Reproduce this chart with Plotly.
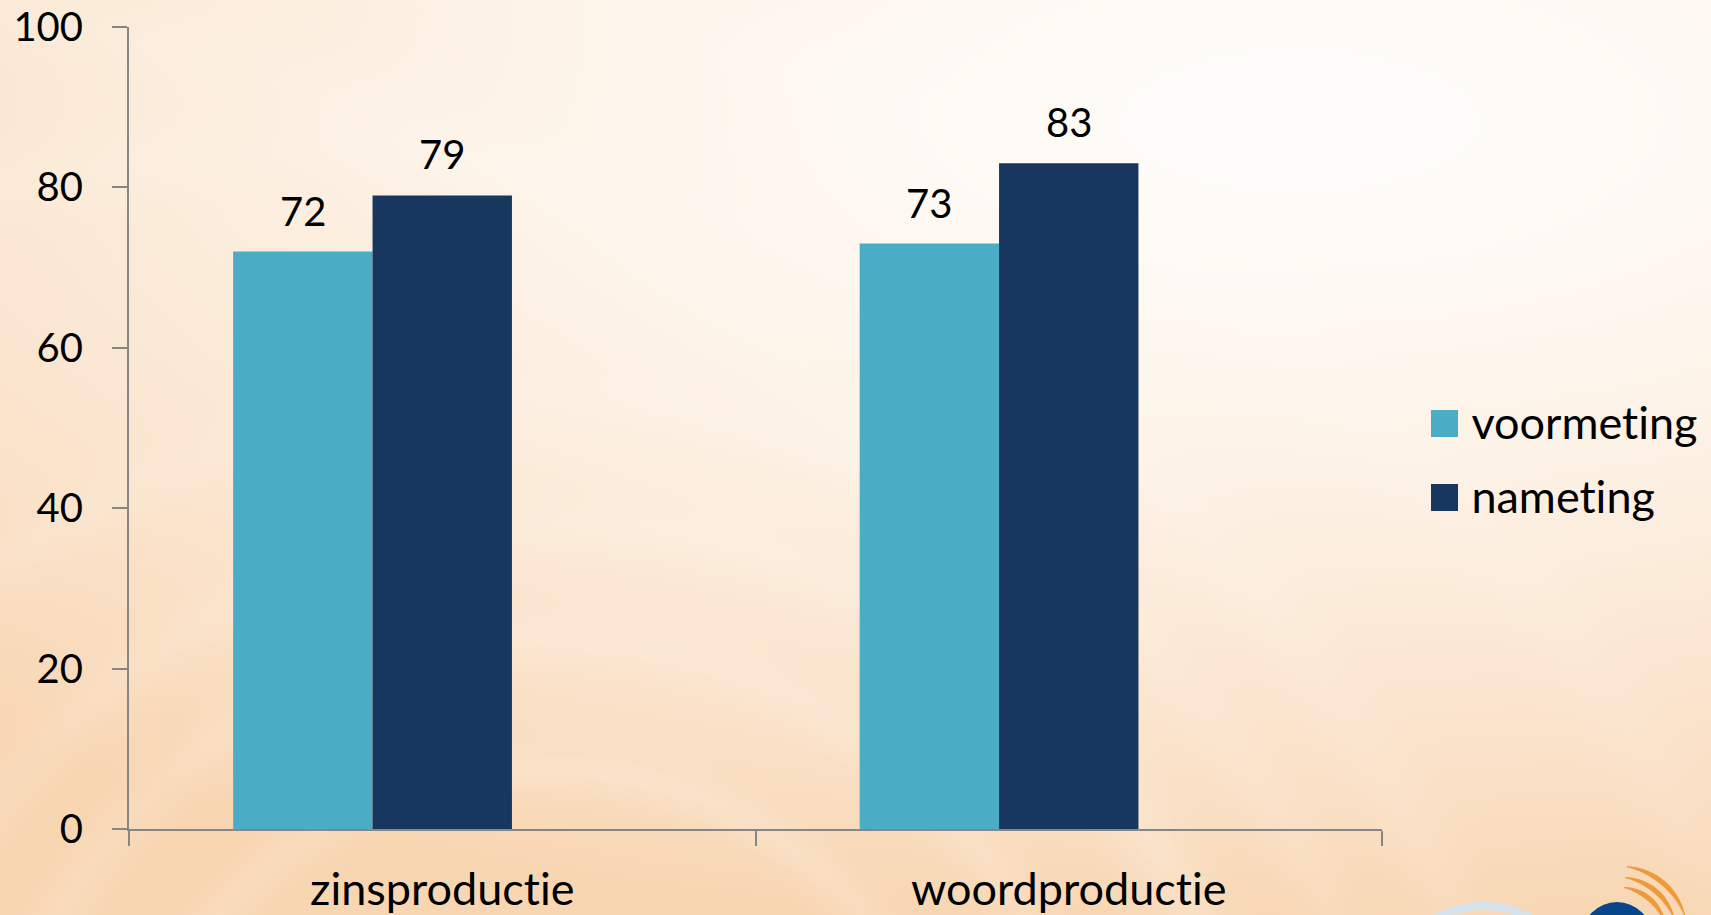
import base64
import struct
import zlib

import numpy as np
import plotly.graph_objects as go

# ---------------- data ----------------
categories = ["zinsproductie", "woordproductie"]
series_names = ["voormeting", "nameting"]
voormeting = [72, 73]
nameting = [79, 83]
series_values = [voormeting, nameting]
series_colors = ["#4BACC6", "#17375E"]
y_ticks = [0, 20, 40, 60, 80, 100]

# ---------------- geometry (pixels of the 1711x915 page) ----------------
W, H = 1711, 915
PLOT_L, PLOT_R, PLOT_T, PLOT_B = 129, 1382, 27, 829
N_SLOTS = 3          # the chart reserves a third (empty) slot per category
BARGAP = 0.3325
FONT = "Lato"
FS_NUM = 40
FS_TXT = 45


def px(x):
    return x / W


def py(y):
    return 1 - y / H


# ---------------- background image ----------------
def png_data_uri(arr):
    h, w, _ = arr.shape
    raw = b"".join(b"\x00" + arr[i].tobytes() for i in range(h))

    def chunk(t, d):
        c = struct.pack(">I", len(d)) + t + d
        return c + struct.pack(">I", zlib.crc32(t + d) & 0xFFFFFFFF)

    png = (b"\x89PNG\r\n\x1a\n"
           + chunk(b"IHDR", struct.pack(">IIBBBBB", w, h, 8, 2, 0, 0, 0))
           + chunk(b"IDAT", zlib.compress(raw, 9))
           + chunk(b"IEND", b""))
    return "data:image/png;base64," + base64.b64encode(png).decode()


bw, bh = 570, 305
gx, gy = np.meshgrid(np.linspace(0, W, bw), np.linspace(0, H, bh))
d = np.sqrt(((gx - 1300) / 2000) ** 2 + ((gy - 120) / 820) ** 2)
wgt = np.clip(d, 0, 1) ** 1.5
# soft light swooshes (large faint arcs)
for cx, cy, r, a, b in [(540, 1200, 430, 0.16, 22), (540, 1200, 560, 0.14, 26),
                        (560, 1250, 720, 0.12, 28), (520, 1300, 900, 0.10, 30),
                        (300, 1400, 1250, 0.10, 35), (-200, 1500, 1500, 0.10, 40),
                        (200, 1650, 1700, 0.08, 40)]:
    dist = np.sqrt((gx - cx) ** 2 + (gy - cy) ** 2)
    wgt = wgt * (1 - a * np.exp(-((dist - r) / b) ** 2))
white = np.array([255, 253, 250], dtype=float)
peach = np.array([248, 214, 178], dtype=float)
img = white[None, None, :] * (1 - wgt[..., None]) + peach[None, None, :] * wgt[..., None]
bg_uri = png_data_uri(np.clip(img, 0, 255).astype(np.uint8))

# ---------------- figure ----------------
fig = go.Figure()
for name, vals, col in zip(series_names, series_values, series_colors):
    fig.add_trace(go.Bar(x=categories, y=vals, name=name, marker_color=col,
                         marker_line_width=0, showlegend=False))
# empty third series slot (as in the original chart)
fig.add_trace(go.Bar(x=categories, y=[None] * len(categories), showlegend=False,
                     hoverinfo="skip"))

# data labels
cat_w = (PLOT_R - PLOT_L) / len(categories)
bar_w = cat_w * (1 - BARGAP) / N_SLOTS
annotations = []
for i, vals in enumerate(series_values):
    for c, v in zip(categories, vals):
        annotations.append(dict(
            x=c, y=v, xref="x", yref="y", text=str(v), showarrow=False,
            xshift=(i - (N_SLOTS - 1) / 2) * bar_w, yshift=41,
            yanchor="middle", xanchor="center",
            font=dict(family=FONT, size=FS_NUM, color="black")))

shapes = []
# legend (drawn from the series names / colours)
for i, (name, col) in enumerate(zip(series_names, series_colors)):
    y0 = 410 + 74 * i
    shapes.append(dict(type="rect", xref="paper", yref="paper",
                       x0=px(1431), x1=px(1458), y0=py(y0 + 27), y1=py(y0),
                       fillcolor=col, line_width=0))
    annotations.append(dict(x=px(1469), y=py(y0 + 12), xref="paper", yref="paper",
                            text=name, showarrow=False, xanchor="left",
                            yanchor="middle",
                            font=dict(family=FONT, size=FS_TXT, color="black")))

# logo (cut off at bottom right)
shapes.append(dict(type="circle", xref="paper", yref="paper",
                   x0=px(1483 - 98), x1=px(1483 + 98), y0=py(1004 + 98), y1=py(1004 - 98),
                   line=dict(color="#D5E3EE", width=8), fillcolor="rgba(0,0,0,0)"))
shapes.append(dict(type="circle", xref="paper", yref="paper",
                   x0=px(1617 - 35), x1=px(1617 + 35), y0=py(937 + 35), y1=py(937 - 35),
                   line_width=0, fillcolor="#07468A"))
ccx, ccy = 1617, 937
for r in [50, 60, 71]:
    th = np.linspace(np.radians(18), np.radians(82), 40)
    t = 1.2 + 4.0 * np.sin(np.pi * (th - th[0]) / (th[-1] - th[0]))
    outer = [(ccx + (r + tt / 2) * np.cos(a), ccy - (r + tt / 2) * np.sin(a)) for a, tt in zip(th, t)]
    inner = [(ccx + (r - tt / 2) * np.cos(a), ccy - (r - tt / 2) * np.sin(a)) for a, tt in zip(th[::-1], t[::-1])]
    pts = outer + inner
    path = "M " + " L ".join(f"{px(x):.5f},{py(y):.5f}" for x, y in pts) + " Z"
    shapes.append(dict(type="path", xref="paper", yref="paper", path=path,
                       fillcolor="#EE9A3A", line_width=0))

axis_col = "#868686"
fig.update_layout(
    width=W, height=H,
    margin=dict(l=0, r=0, t=0, b=0, autoexpand=False),
    paper_bgcolor="#FCEFE2", plot_bgcolor="rgba(0,0,0,0)",
    barmode="group", bargap=BARGAP, bargroupgap=0,
    showlegend=False,
    font=dict(family=FONT, size=FS_NUM, color="black"),
    images=[dict(source=bg_uri, xref="paper", yref="paper", x=0, y=1,
                 sizex=1, sizey=1, sizing="stretch", layer="below",
                 xanchor="left", yanchor="top")],
    shapes=shapes,
    annotations=annotations,
    xaxis=dict(domain=[px(PLOT_L), px(PLOT_R)], type="category",
               showline=True, linecolor=axis_col, linewidth=2,
               ticks="outside", tickson="boundaries", ticklen=15,
               tickcolor=axis_col, tickwidth=2, showgrid=False,
               tickfont=dict(family=FONT, size=FS_TXT, color="black"),
               ticklabelstandoff=20, automargin=False, fixedrange=True),
    yaxis=dict(domain=[py(PLOT_B), py(PLOT_T)], range=[0, 100],
               tickvals=y_ticks, showline=True, linecolor=axis_col, linewidth=2,
               ticks="outside", ticklen=15, tickcolor=axis_col, tickwidth=2,
               showgrid=False, zeroline=False,
               tickfont=dict(family=FONT, size=FS_NUM, color="black"),
               ticklabelstandoff=21, automargin=False, fixedrange=True),
)

fig.write_html(
    "out.html",
    config={"displayModeBar": False},
    post_script=(
        "document.body.style.margin='0';"
        "document.body.style.overflow='hidden';"
        "document.head.insertAdjacentHTML('beforeend',"
        "'<style>text{font-variant-ligatures:none !important;"
        "font-feature-settings:\"liga\" 0 !important;}</style>');"
    ),
)
